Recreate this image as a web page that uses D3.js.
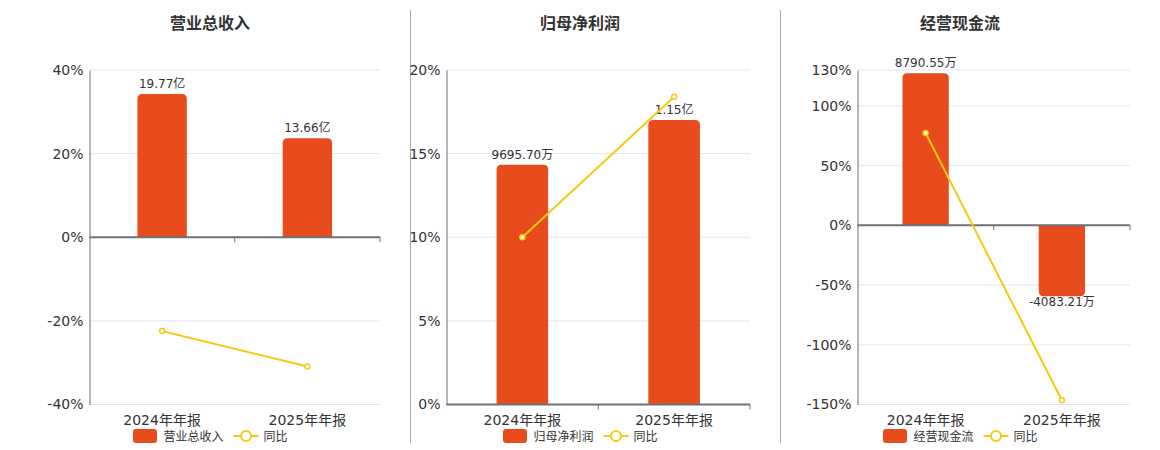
<!DOCTYPE html>
<html>
<head>
  <meta charset="utf-8">
  <style>
    body {
      margin: 0;
      background: white;
    }
    svg text {
      font-family: "DejaVu Sans", "Noto Sans CJK SC", sans-serif;
      fill: #333;
    }
  </style>
</head>
<body>
  <div id="chart"></div>
  <script src="https://d3js.org/d3.v7.min.js"></script>
  <script>
    var width = 1160, height = 450;

    // data
    var categories = ["2024年年报", "2025年年报"];
    var titles = ["营业总收入", "归母净利润", "经营现金流"];
    // bar values, in 万
    var revenue = [197700, 136600];
    var netProfit = [9695.70, 11500];
    var cashFlow = [8790.55, -4083.21];
    var revenueLabels = ["19.77亿", "13.66亿"];
    var netProfitLabels = ["9695.70万", "1.15亿"];
    var cashFlowLabels = ["8790.55万", "-4083.21万"];
    // year on year, %
    var revenueYoy = [-22.45, -30.9];
    var netProfitYoy = [10.0, 18.4];
    var cashFlowYoy = [77.2, -146.45];
    var revenueTicks = [-40, -20, 0, 20, 40];
    var netProfitTicks = [0, 5, 10, 15, 20];
    var cashFlowTicks = [-150, -100, -50, 0, 50, 100, 130];
    // hidden bar axis extents (万), zero lines up with the percent axis
    var revenueBarExtent = [-230800, 230800];
    var netProfitBarExtent = [0, 13525];
    var cashFlowBarExtent = [-10332, 8975];

    var barColor = "#E84C1D", lineColor = "#F7C913", axisColor = "#6E7079", gridColor = "#E0E6F1";

    var panels = [
      {title: titles[0], bars: revenue, labels: revenueLabels, yoy: revenueYoy, ticks: revenueTicks, barExtent: revenueBarExtent, left: 89.5, right: 380, center: 210},
      {title: titles[1], bars: netProfit, labels: netProfitLabels, yoy: netProfitYoy, ticks: netProfitTicks, barExtent: netProfitBarExtent, left: 446.5, right: 750, center: 580},
      {title: titles[2], bars: cashFlow, labels: cashFlowLabels, yoy: cashFlowYoy, ticks: cashFlowTicks, barExtent: cashFlowBarExtent, left: 857.5, right: 1130, center: 960}
    ];
    var plotTop = 70, plotBottom = 404.5;

    var svg = d3.select("#chart").append("svg")
        .attr("width", width)
        .attr("height", height);

    // dividers
    [410.5, 780.5].forEach(x => {
      svg.append("line")
          .attr("x1", x).attr("x2", x)
          .attr("y1", 10).attr("y2", 443)
          .attr("stroke", "#aaa").attr("stroke-width", 1);
    });

    function barPath(x, w, y0, y1, r) {
      // rounded at the end away from zero
      var h = Math.abs(y1 - y0);
      r = Math.min(r, h, w / 2);
      if (y1 < y0) {
        return "M" + x + "," + y0 + "V" + (y1 + r) + "Q" + x + "," + y1 + " " + (x + r) + "," + y1 +
          "H" + (x + w - r) + "Q" + (x + w) + "," + y1 + " " + (x + w) + "," + (y1 + r) + "V" + y0 + "Z";
      }
      return "M" + x + "," + y0 + "V" + (y1 - r) + "Q" + x + "," + y1 + " " + (x + r) + "," + y1 +
        "H" + (x + w - r) + "Q" + (x + w) + "," + y1 + " " + (x + w) + "," + (y1 - r) + "V" + y0 + "Z";
    }

    panels.forEach(p => {
      var g = svg.append("g");
      var ticks = p.ticks;

      var x = d3.scaleBand().domain(categories).range([p.left, p.right]);
      var y = d3.scaleLinear().domain(d3.extent(ticks)).range([plotBottom, plotTop]);
      var yBar = d3.scaleLinear().domain(p.barExtent).range([plotBottom, plotTop]);
      var zero = y(0);
      var cx = d => x(d) + x.bandwidth() / 2;

      // title
      g.append("text")
          .attr("x", p.center).attr("y", 29)
          .attr("text-anchor", "middle")
          .style("font-size", "16px").style("font-weight", "bold")
          .text(p.title);

      // grid
      g.selectAll(".grid").data(ticks.filter(t => t !== 0)).enter().append("line")
          .attr("x1", p.left).attr("x2", p.right)
          .attr("y1", d => y(d)).attr("y2", d => y(d))
          .attr("stroke", gridColor).attr("stroke-width", 1);

      // y axis
      var yAxis = d3.axisLeft(y).tickValues(ticks).tickSize(0).tickPadding(6).tickFormat(d => d + "%");
      var ya = g.append("g").attr("transform", "translate(" + p.left + ",0)").call(yAxis);
      ya.attr("font-family", null).attr("font-size", null);
      ya.select(".domain").attr("stroke", axisColor);
      ya.selectAll("text").style("font-size", "14px").attr("fill", "#333");

      // bars
      var bw = x.bandwidth() * 0.34;
      g.selectAll(".bar").data(p.bars).enter().append("path")
          .attr("d", (d, i) => barPath(x(categories[i]) + (x.bandwidth() - bw) / 2, bw, zero, yBar(d), 5))
          .attr("fill", barColor);

      // bar labels
      g.selectAll(".blabel").data(p.bars).enter().append("text")
          .attr("x", (d, i) => cx(categories[i]))
          .attr("y", d => d >= 0 ? yBar(d) - 6 : yBar(d) + 10)
          .attr("text-anchor", "middle")
          .style("font-size", "12px")
          .text((d, i) => p.labels[i]);

      // x axis
      var xa = g.append("g").attr("transform", "translate(0," + zero + ")");
      xa.append("line")
          .attr("x1", p.left).attr("x2", p.right)
          .attr("stroke", axisColor).attr("stroke-width", 2);
      xa.selectAll(".tk").data([x(categories[1]), p.right]).enter().append("line")
          .attr("x1", d => d).attr("x2", d => d)
          .attr("y1", 0).attr("y2", 5)
          .attr("stroke", axisColor).attr("stroke-width", 1);
      g.selectAll(".xlabel").data(categories).enter().append("text")
          .attr("x", d => cx(d))
          .attr("y", 425)
          .attr("text-anchor", "middle")
          .style("font-size", "14px")
          .text(d => d);

      // yoy line
      var line = d3.line().x((d, i) => cx(categories[i])).y(d => y(d));
      g.append("path").datum(p.yoy)
          .attr("d", line)
          .attr("fill", "none")
          .attr("stroke", lineColor).attr("stroke-width", 2);
      g.selectAll(".pt").data(p.yoy).enter().append("circle")
          .attr("cx", (d, i) => cx(categories[i]))
          .attr("cy", d => y(d))
          .attr("r", 2.5)
          .attr("fill", "white")
          .attr("stroke", lineColor).attr("stroke-width", 1.5);

      // legend
      var lg = g.append("g").attr("transform", "translate(" + p.center + ",0)");
      lg.append("rect")
          .attr("x", -77).attr("y", 429).attr("width", 24).attr("height", 14).attr("rx", 3)
          .attr("fill", barColor);
      lg.append("text")
          .attr("x", -46.5).attr("y", 440.5)
          .style("font-size", "12px")
          .text(p.title);
      lg.append("line")
          .attr("x1", 23.5).attr("x2", 48.5).attr("y1", 436).attr("y2", 436)
          .attr("stroke", lineColor).attr("stroke-width", 2);
      lg.append("circle")
          .attr("cx", 36).attr("cy", 436).attr("r", 5)
          .attr("fill", "white")
          .attr("stroke", lineColor).attr("stroke-width", 2);
      lg.append("text")
          .attr("x", 53.5).attr("y", 440.5)
          .style("font-size", "12px")
          .text("同比");
    });
  </script>
</body>
</html>
